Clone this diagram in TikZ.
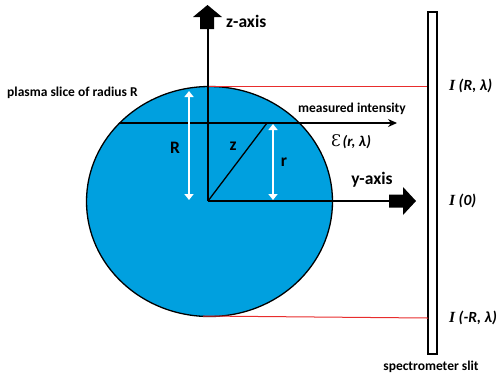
\documentclass[tikz,border=0pt]{standalone}
\usepackage{fontspec}
\setmainfont{Carlito}
\newfontfamily\serifI{Liberation Serif}
\newfontfamily\epsfont{DejaVu Serif}
\usetikzlibrary{arrows.meta,shapes.geometric}
\definecolor{plasma}{RGB}{0,160,223}
\definecolor{redline}{RGB}{232,45,45}
\tikzset{
  axisline/.style={line width=1.4pt, black},
  blockhead/.style={fill=black, draw=none},
  whitearrow/.style={white, line width=2pt, {Triangle[width=9pt,length=6pt]}-{Triangle[width=9pt,length=6pt]}},
  redlink/.style={redline, line width=1pt},
  lbl/.style={font=\bfseries\fontsize{13.5}{15}\selectfont, inner sep=0pt},
  biglbl/.style={font=\bfseries\fontsize{17.5}{19}\selectfont, inner sep=0pt},
  ilbl/.style={font=\bfseries\itshape\fontsize{15.5}{17}\selectfont, inner sep=0pt, anchor=west}
}
\begin{document}
\begin{tikzpicture}[x=1pt,y=-1pt]
\useasboundingbox (0,0) rectangle (497,376);
% plasma slice
\node (plasma) [ellipse, draw=black, line width=1.3pt, fill=plasma, minimum width=246pt, minimum height=230pt, inner sep=0pt] at (209.5,201.5) {};
\coordinate (O) at (208,201);
\coordinate (ztop) at (208,28);
\coordinate (yend) at (390,201);
\coordinate (chordL) at (119.6,123);
\coordinate (chordE) at (397,123);
\coordinate (rp) at (267,123);
% slit
\node (slit) [draw=black, line width=1.3pt, fill=white, minimum width=9pt, minimum height=342pt, inner sep=0pt] at (432.5,183) {};
\coordinate (topP) at (208,86.5);
\coordinate (botP) at (203,316);
% red lines
\draw[redlink] (topP) -- (topP -| slit.west);
\draw[redlink] (botP) -- (428,318);
% axes
\draw[axisline] (O) -- (ztop);
\fill[blockhead] (200,29) -- (200,17) -- (193,17) -- (207.5,5) -- (222,17) -- (214,17) -- (214,29) -- cycle;
\draw[axisline] (O) -- (yend);
\fill[blockhead] (389,194.5) -- (403,194.5) -- (403,187) -- (416,201) -- (403,215) -- (403,207.5) -- (389,207.5) -- cycle;
% chord
\draw[axisline, -{Stealth[length=9pt,width=8pt]}] (chordL) -- (chordE);
% radial line
\draw[line width=1.3pt] (O) -- (rp);
% white arrows
\draw[whitearrow] (189,91) -- (189,200);
\draw[whitearrow] (273,124) -- (273,200);
% labels
\node (zl) [biglbl, anchor=west] at (226,21) {z-axis};
\node (yl) [biglbl] at (372,180) {y-axis};
\node (pl) [lbl, anchor=west] at (7,93) {plasma slice of radius R};
\node (ml) [lbl] at (352,109) {measured intensity};
\node (el) [inner sep=0pt] at (351,142) {{\epsfont\fontsize{16}{18}\selectfont Ɛ}\,{\bfseries\itshape\fontsize{15}{17}\selectfont (r, λ)}};
\node (Rl) [biglbl] at (175,148) {R};
\node (zz) [biglbl] at (233,146) {z};
\node (rl) [biglbl] at (284,162) {r};
\node (i1) [ilbl] at (449,86) {{\serifI I} (R, λ)};
\node (i2) [ilbl] at (449,201) {{\serifI I} (0)};
\node (i3) [ilbl] at (449,318) {{\serifI I} (-R, λ)};
\node (sl) [lbl] at (431,367) {spectrometer slit};
\end{tikzpicture}
\end{document}
